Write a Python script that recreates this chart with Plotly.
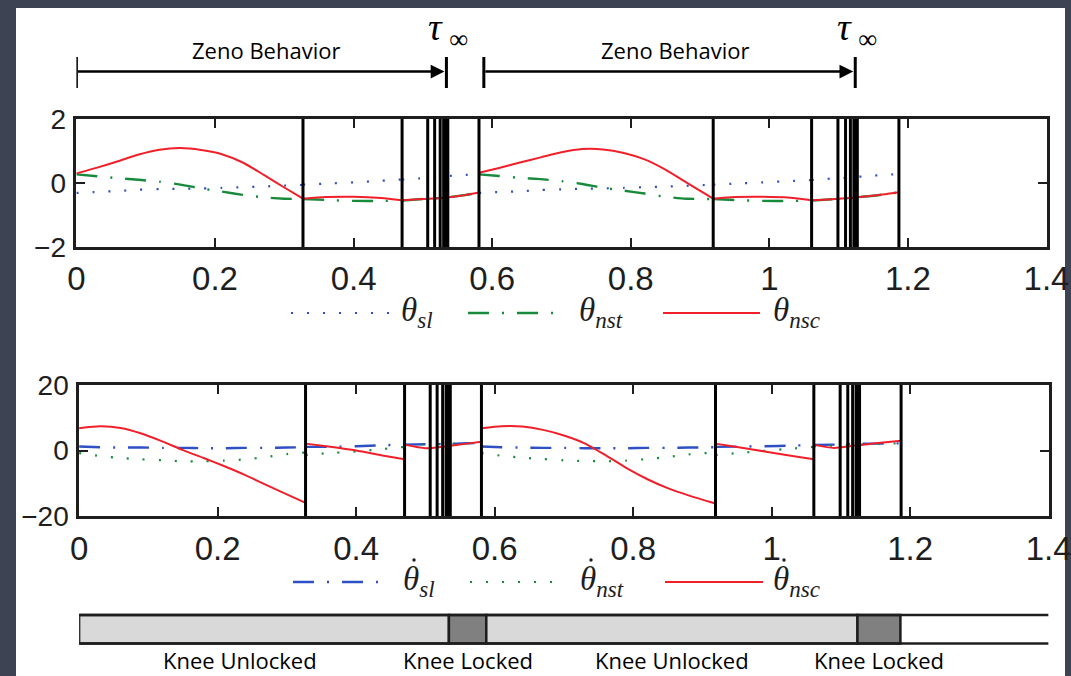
import plotly.graph_objects as go

W, H = 1071, 676

# ---------------- data ----------------
# time samples (None separates the continuous phases between impact events)
t = [0.0, 0.03, 0.06, 0.09, 0.12, 0.15, 0.18, 0.21, 0.24, 0.27, 0.30, 0.327, None,
     0.327, 0.36, 0.40, 0.44, 0.47, None,
     0.47, 0.50, 0.53, 0.56, 0.581, None,
     0.581, 0.61, 0.64, 0.67, 0.70, 0.73, 0.76, 0.79, 0.82, 0.85, 0.88, 0.919, None,
     0.919, 0.95, 0.99, 1.03, 1.061, None,
     1.061, 1.09, 1.12, 1.15, 1.187]

theta_sl = [-0.31, -0.28, -0.25, -0.21, -0.19, -0.18, -0.17, -0.15, -0.13, -0.11, -0.08, -0.06, None,
            -0.05, -0.02, 0.02, 0.07, 0.11, None,
            0.11, 0.15, 0.21, 0.25, 0.29, None,
            -0.31, -0.28, -0.26, -0.22, -0.20, -0.18, -0.17, -0.15, -0.13, -0.11, -0.09, -0.05, None,
            -0.05, -0.02, 0.02, 0.06, 0.09, None,
            0.09, 0.14, 0.18, 0.23, 0.28]

theta_nst = [0.27, 0.21, 0.15, 0.10, 0.04, -0.05, -0.17, -0.27, -0.37, -0.45, -0.49, -0.50, None,
             -0.50, -0.53, -0.56, -0.56, -0.55, None,
             -0.55, -0.50, -0.46, -0.38, -0.30, None,
             0.27, 0.22, 0.16, 0.12, 0.06, -0.03, -0.15, -0.24, -0.33, -0.43, -0.49, -0.50, None,
             -0.50, -0.53, -0.56, -0.56, -0.55, None,
             -0.55, -0.51, -0.46, -0.40, -0.29]

theta_nsc = [0.30, 0.48, 0.68, 0.89, 1.04, 1.09, 1.03, 0.90, 0.64, 0.26, -0.14, -0.49, None,
             -0.49, -0.44, -0.43, -0.47, -0.54, None,
             -0.54, -0.50, -0.46, -0.38, -0.30, None,
             0.32, 0.47, 0.64, 0.80, 0.96, 1.06, 1.05, 0.94, 0.74, 0.42, 0.02, -0.49, None,
             -0.49, -0.44, -0.43, -0.46, -0.54, None,
             -0.54, -0.51, -0.46, -0.40, -0.29]

dtheta_sl = [1.2, 1.0, 0.9, 0.9, 0.8, 0.8, 0.7, 0.7, 0.8, 0.8, 0.9, 1.0, None,
             1.1, 1.1, 1.3, 1.6, 1.8, None,
             1.8, 1.9, 2.0, 2.2, 2.3, None,
             1.2, 1.0, 0.9, 0.8, 0.8, 0.7, 0.7, 0.7, 0.8, 0.8, 0.9, 1.0, None,
             1.1, 1.2, 1.3, 1.5, 1.7, None,
             1.7, 1.8, 2.0, 2.1, 2.2]

dtheta_nst = [-0.8, -1.7, -2.3, -2.7, -3.0, -3.3, -3.3, -3.1, -2.7, -2.0, -1.1, -0.6, None,
              -1.4, -0.8, -0.3, 0.5, 1.1, None,
              1.8, 1.9, 2.0, 2.2, 2.4, None,
              -0.8, -1.6, -2.2, -2.6, -3.0, -3.2, -3.3, -3.1, -2.6, -2.0, -1.2, -0.6, None,
              -1.4, -0.8, -0.1, 0.6, 1.1, None,
              1.3, 1.5, 1.8, 2.0, 2.2]

dtheta_nsc = [6.8, 7.4, 6.9, 5.2, 2.8, 0.1, -2.3, -4.8, -7.5, -10.5, -13.4, -16.0, None,
              2.1, 1.2, 0.0, -1.6, -2.7, None,
              1.8, 0.7, 1.3, 2.1, 2.7, None,
              6.8, 7.4, 7.3, 6.3, 4.6, 2.2, -1.4, -5.3, -8.7, -11.5, -13.7, -16.2, None,
              2.1, 1.1, -0.3, -1.7, -2.7, None,
              1.8, 0.8, 1.5, 2.2, 3.0]

# impact / event times (vertical black lines)
event_times = [0.327, 0.470, 0.507, 0.517, 0.525, 0.530, 0.533, 0.536, 0.581,
               0.919, 1.061, 1.099, 1.110, 1.117, 1.122, 1.125, 1.127, 1.187]

# Zeno intervals: start of interval and tau_infinity
zeno_start = [0.0, 0.588]
zeno_tau_inf = [0.534, 1.124]

# knee phases (bottom bar)
phase_edges = [0.0, 0.534, 0.588, 1.124, 1.186]
phase_labels = ["Knee Unlocked", "Knee Locked", "Knee Unlocked", "Knee Locked"]

x_ticks = [0, 0.2, 0.4, 0.6, 0.8, 1.0, 1.2, 1.4]
top_y_ticks = [-2, 0, 2]
bottom_y_ticks = [-20, 0, 20]

# ---------------- styling ----------------
BLUE = "#2f4fc4"
GREEN = "#178a3c"
RED = "#f0202a"
INK = "#1e1e1e"
DOT = "2px,14px"
DASHDOT = "21px,13px,2px,13px"
TICKFONT = "Liberation Sans, Arial, sans-serif"
SERIF = "Liberation Serif, DejaVu Serif, serif"
SANS = "Open Sans, Noto Sans, sans-serif"


def px_x(p):
    return p / W


def px_y(p):
    return 1 - p / H


fig = go.Figure()

# top panel
fig.add_trace(go.Scatter(x=t, y=theta_sl, mode="lines", line=dict(color=BLUE, width=2.2, dash=DOT, shape="spline", smoothing=0.6), xaxis="x", yaxis="y"))
fig.add_trace(go.Scatter(x=t, y=theta_nst, mode="lines", line=dict(color=GREEN, width=2.4, dash=DASHDOT, shape="spline", smoothing=0.6), xaxis="x", yaxis="y"))
fig.add_trace(go.Scatter(x=t, y=theta_nsc, mode="lines", line=dict(color=RED, width=2, shape="spline", smoothing=0.6), xaxis="x", yaxis="y"))

# bottom panel
fig.add_trace(go.Scatter(x=t, y=dtheta_sl, mode="lines", line=dict(color=BLUE, width=2.4, dash=DASHDOT, shape="spline", smoothing=0.6), xaxis="x2", yaxis="y2"))
fig.add_trace(go.Scatter(x=t, y=dtheta_nst, mode="lines", line=dict(color=GREEN, width=2.2, dash=DOT, shape="spline", smoothing=0.6), xaxis="x2", yaxis="y2"))
fig.add_trace(go.Scatter(x=t, y=dtheta_nsc, mode="lines", line=dict(color=RED, width=2, shape="spline", smoothing=0.6), xaxis="x2", yaxis="y2"))

# phase bar
for a, b, lab in zip(phase_edges[:-1], phase_edges[1:], phase_labels):
    col = "#d9d9d9" if "Unlocked" in lab else "#808080"
    fig.add_trace(go.Bar(x=[b - a], base=[a], y=[0], orientation="h", width=1,
                         marker=dict(color=col, line=dict(color=INK, width=2.5)),
                         xaxis="x3", yaxis="y3", hoverinfo="skip"))

shapes = []
annotations = []

# white slide panel
shapes.append(dict(type="rect", xref="paper", yref="paper", x0=px_x(16), x1=px_x(1065),
                   y0=0, y1=px_y(8), fillcolor="white", line=dict(width=0), layer="below"))

# event lines
for ev in event_times:
    for xr, yr in (("x", "y domain"), ("x2", "y2 domain")):
        shapes.append(dict(type="line", xref=xr, yref=yr, x0=ev, x1=ev, y0=0, y1=1,
                           line=dict(color="black", width=3)))

# phase bar top / bottom rails
for yy in (-0.5, 0.5):
    shapes.append(dict(type="line", xref="x3", yref="y3", x0=0, x1=1.4, y0=yy, y1=yy,
                       line=dict(color=INK, width=2.5)))

# phase labels
for i, (a, b, lab) in enumerate(zip(phase_edges[:-1], phase_edges[1:], phase_labels)):
    annotations.append(dict(x=(a + b) / 2, xref="x3", y=px_y(660), yref="paper", text=lab,
                            showarrow=False, xanchor="center", yanchor="middle",
                            xshift=-24 if i == 0 else 0,
                            font=dict(family=SANS, size=22, color="black")))

# Zeno arrows
arrow_y = px_y(71.5)
for s, e in zip(zeno_start, zeno_tau_inf):
    annotations.append(dict(x=e, y=arrow_y, xref="x", yref="paper", ax=s, axref="x", ay=0, ayref="pixel",
                            showarrow=True, arrowhead=2, arrowsize=1.1, arrowwidth=2.5, arrowcolor="black",
                            standoff=2, text=""))
    for xx in (s, e):
        shapes.append(dict(type="line", xref="x", yref="paper", x0=xx, x1=xx, y0=px_y(88), y1=px_y(57),
                           line=dict(color="black", width=3)))
    annotations.append(dict(x=(s + e) / 2, y=px_y(50), xref="x", yref="paper", text="Zeno Behavior",
                            showarrow=False, xshift=5, yanchor="middle",
                            font=dict(family=SANS, size=22, color="black")))
    annotations.append(dict(x=e, y=px_y(30), xref="x", yref="paper", yanchor="middle",
                            text="<i>τ</i>\u2009<sub>∞</sub>", showarrow=False, xshift=2,
                            font=dict(family=SERIF, size=38, color="black")))

# manual legends
legend_rows = [
    (313, False, [(BLUE, DOT, 2.2, 291, 391, 399, "<i>θ</i><sub><i>sl</i></sub>"),
                  (GREEN, DASHDOT, 2.4, 468, 556, 577, "<i>θ</i><sub><i>nst</i></sub>"),
                  (RED, None, 2, 663, 760, 771, "<i>θ</i><sub><i>nsc</i></sub>")]),
    (582, True, [(BLUE, DASHDOT, 2.4, 293, 380, 401, "<i>θ</i><sub><i>sl</i></sub>"),
                 (GREEN, DOT, 2.2, 470, 566, 578, "<i>θ</i><sub><i>nst</i></sub>"),
                 (RED, None, 2, 665, 763, 771, "<i>θ</i><sub><i>nsc</i></sub>")]),
]
for ypx, dotted, items in legend_rows:
    for col, dash, wd, x0, x1, xt, txt in items:
        ln = dict(color=col, width=wd)
        if dash:
            ln["dash"] = dash
        shapes.append(dict(type="line", xref="paper", yref="paper", x0=px_x(x0), x1=px_x(x1),
                           y0=px_y(ypx), y1=px_y(ypx), line=ln))
        annotations.append(dict(x=px_x(xt), y=px_y(ypx - 1), xref="paper", yref="paper", text=txt,
                                showarrow=False, xanchor="left", yanchor="middle",
                                font=dict(family=SERIF, size=33, color=INK)))
        if dotted:
            cx, cy = xt + 13, ypx - 22
            shapes.append(dict(type="circle", xref="paper", yref="paper",
                               x0=px_x(cx - 1.7), x1=px_x(cx + 1.7), y0=px_y(cy + 1.7), y1=px_y(cy - 1.7),
                               fillcolor=INK, line=dict(width=0)))

axis_common = dict(showline=True, linewidth=2.5, linecolor=INK, mirror="ticks", ticks="inside",
                   ticklen=9, tickwidth=2, tickcolor=INK, showgrid=False, zeroline=False,
                   automargin=False, ticklabeloverflow="allow")

fig.update_layout(
    width=W, height=H, margin=dict(l=0, r=0, t=0, b=0, pad=0), autosize=False,
    paper_bgcolor="#3d4352", plot_bgcolor="rgba(0,0,0,0)",
    showlegend=False, barmode="overlay",
    xaxis=dict(domain=[px_x(76.4), px_x(1046.5)], range=[0, 1.4], tickvals=x_ticks, anchor="y",
               tickfont=dict(family=TICKFONT, size=33, color=INK), ticklabelstandoff=1, **axis_common),
    yaxis=dict(domain=[px_y(247), px_y(119)], range=[-2, 2], tickvals=top_y_ticks, anchor="x",
               tickfont=dict(family=TICKFONT, size=28, color=INK), ticklabelstandoff=2, **axis_common),
    xaxis2=dict(domain=[px_x(79.1), px_x(1048.6)], range=[0, 1.4], tickvals=x_ticks, anchor="y2",
                tickfont=dict(family=TICKFONT, size=33, color=INK), ticklabelstandoff=2, **axis_common),
    yaxis2=dict(domain=[px_y(516), px_y(385)], range=[-20, 20], tickvals=bottom_y_ticks, anchor="x2",
                tickfont=dict(family=TICKFONT, size=28, color=INK), ticklabelstandoff=2, **axis_common),
    xaxis3=dict(domain=[px_x(79.1), px_x(1048.6)], range=[0, 1.4], visible=False, anchor="y3",
                automargin=False),
    yaxis3=dict(domain=[px_y(646.35), px_y(612.15)], range=[-0.6, 0.6], visible=False, anchor="x3",
                automargin=False),
    shapes=shapes, annotations=annotations,
)

fig.write_html("out.html", post_script="document.body.style.margin='0';",
               config={"displayModeBar": False})
